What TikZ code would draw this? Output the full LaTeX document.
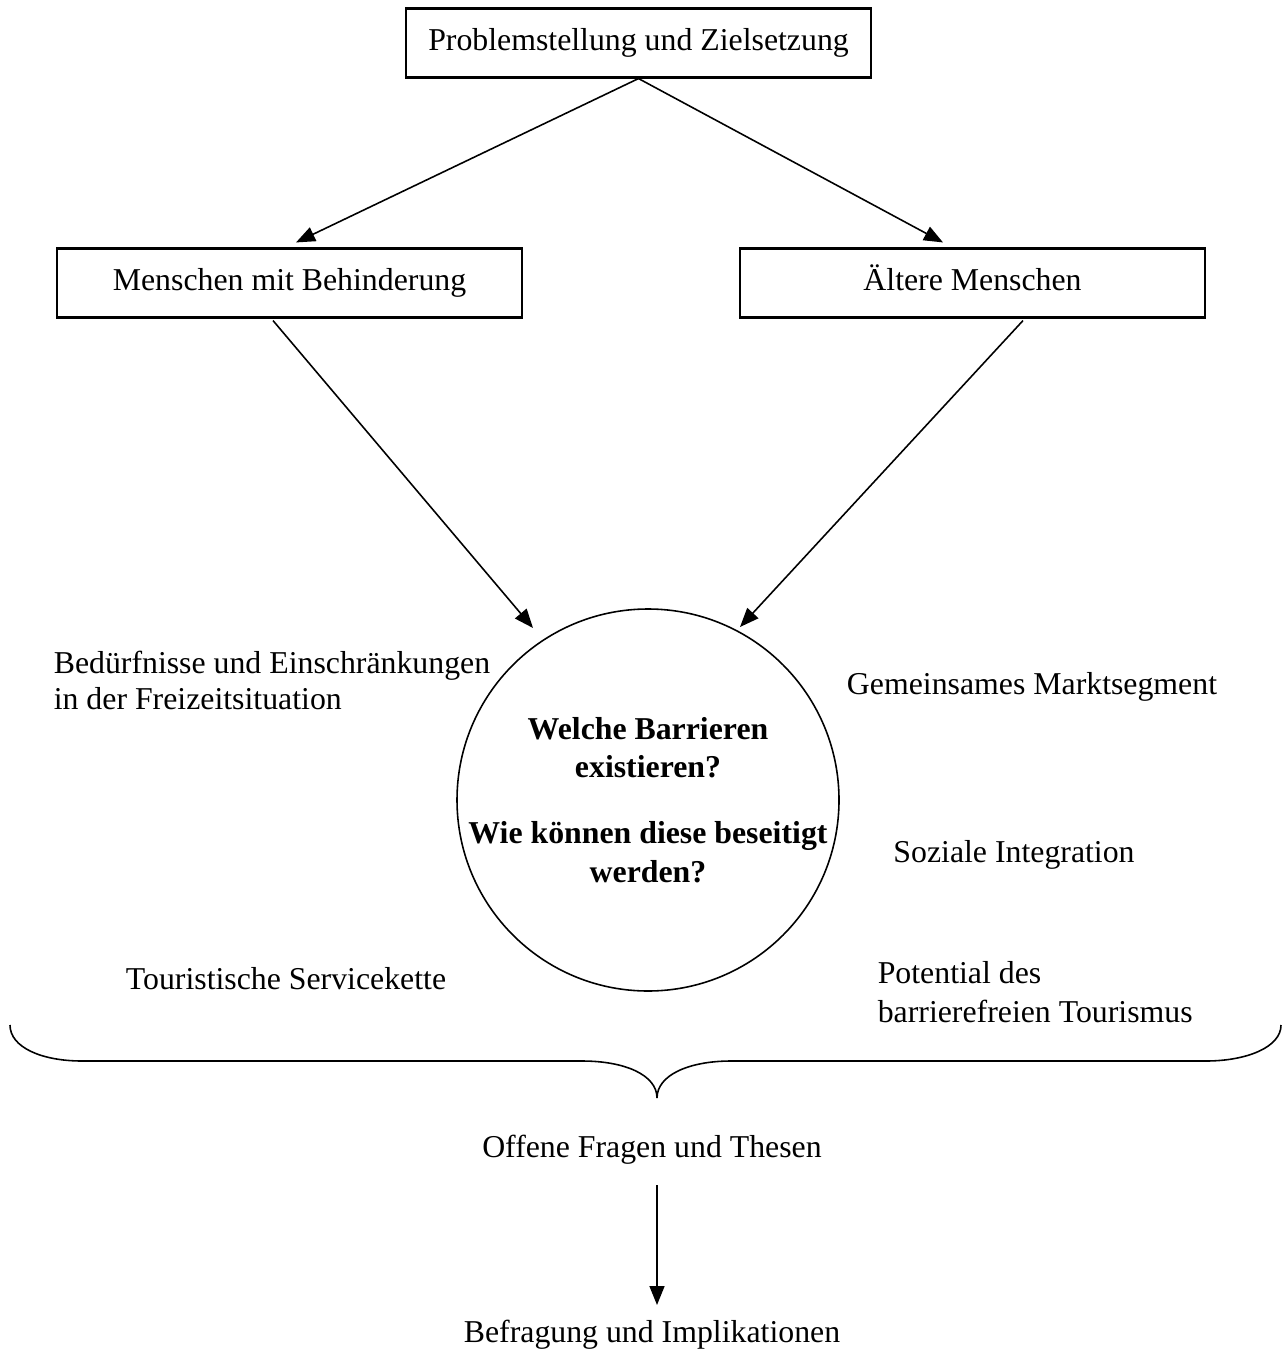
\documentclass[tikz,border=0pt]{standalone}
\usepackage{fontspec}
\setmainfont{Liberation Serif}
\usetikzlibrary{calc,positioning,arrows.meta}

\begin{document}
\begin{tikzpicture}[>={Triangle[length=0.38cm,width=0.3cm]},line width=0.9pt,node distance=2.2cm,
    box node/.style={rectangle,draw,line width=1.2pt,minimum width=9.3cm,minimum height=1.38cm,text height=12.5pt,text depth=3.5pt,font=\fontsize{18.1}{21}\selectfont},
    plain node/.style={align=left,inner sep=0pt,font=\fontsize{18.1}{21}\selectfont}]

    \useasboundingbox (0,0) rectangle (25.72,-27.06);

    \node (ziel) at (12.77,-0.86) [box node]{Problemstellung und Zielsetzung};

    \node (mwb) at ($(ziel)+(-6.98,-4.8)$) [box node]{Menschen mit Behinderung};
    \node (alt) at ($(ziel)+(6.68,-4.8)$) [box node]{Ältere Menschen};

    \node (frage) at (12.96,-16.0) [circle, draw, minimum size=7.64cm]{};
    \node (fragetext) at (frage.center) [align=center, font=\fontsize{18.1}{22}\selectfont\bfseries]
        {Welche Barrieren\\existieren?\\[0.85em]Wie können diese beseitigt\\werden?};

    \node (beduerf) at (1.06,-13.61) [plain node, anchor=west]{Bedürfnisse und Einschränkungen\\in der Freizeitsituation};
    \node (markt) at (20.64,-13.74) [plain node]{Gemeinsames Marktsegment};
    \node (sozial) at (20.28,-17.1) [plain node]{Soziale Integration};
    \node (kette) at (5.72,-19.58) [plain node]{Touristische Servicekette};
    \node (potenzial) at (17.54,-19.84) [plain node, anchor=west, font=\fontsize{18.1}{22.5}\selectfont]{Potential des\\barrierefreien Tourismus};

    \node (offen) at (13.04,-23.0) [plain node]{Offene Fragen und Thesen};
    \node (befr) at (13.04,-26.7) [plain node]{Befragung und Implikationen};

    % the brace
    \draw (0.2,-20.5) .. controls (0.2,-20.95) and (0.84,-21.22) .. (1.64,-21.22)
        -- (11.64,-21.22) .. controls (12.5,-21.22) and (13.14,-21.5) .. (13.14,-21.96)
        .. controls (13.14,-21.5) and (13.78,-21.22) .. (14.62,-21.22)
        -- (24.12,-21.22) .. controls (24.92,-21.22) and (25.62,-20.95) .. (25.62,-20.5);

    \path[->]
        (ziel.south) edge ($(mwb.north)+(0.13,0.1)$)
        (ziel.south) edge ($(alt.north)+(-0.59,0.1)$)

        ($(mwb.south)+(-0.33,-0.04)$) edge ($(frage.center)+(-2.3,3.44)$)
        ($(alt.south)+(1.01,-0.04)$) edge ($(frage.center)+(1.84,3.46)$)

        ($(offen.center)+(0.1,-0.7)$) edge ($(befr.center)+(0.1,0.6)$)
    ;
\end{tikzpicture}
\end{document}
